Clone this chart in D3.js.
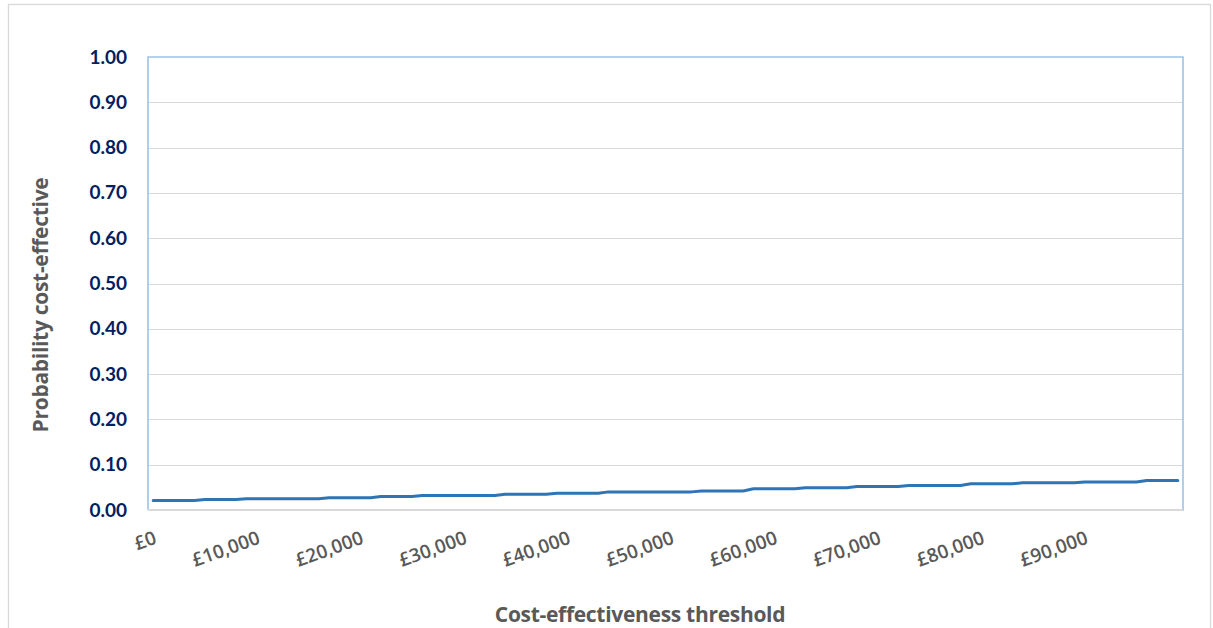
<!DOCTYPE html>
<html>
<head>
<meta charset="utf-8">
<script src="https://cdn.jsdelivr.net/npm/d3@7"></script>
<style>
  html, body { margin: 0; padding: 0; background: #ffffff; }
  svg { display: block; }
</style>
</head>
<body>
<svg id="chart" width="1213" height="628"></svg>
<script>
// Willingness-to-pay thresholds (£0 to £99,000 in £1,000 steps)
const thresholds = d3.range(0, 100000, 1000);

// Probability that the intervention is cost-effective at each threshold
const probCostEffective = [
  0.021, 0.021, 0.021, 0.021, 0.021, 0.023, 0.023, 0.023, 0.023, 0.025,
  0.025, 0.025, 0.025, 0.025, 0.025, 0.025, 0.025, 0.027, 0.027, 0.027,
  0.027, 0.027, 0.030, 0.030, 0.030, 0.030, 0.032, 0.032, 0.032, 0.032,
  0.032, 0.032, 0.032, 0.032, 0.035, 0.035, 0.035, 0.035, 0.035, 0.037,
  0.037, 0.037, 0.037, 0.037, 0.040, 0.040, 0.040, 0.040, 0.040, 0.040,
  0.040, 0.040, 0.040, 0.042, 0.042, 0.042, 0.042, 0.042, 0.047, 0.047,
  0.047, 0.047, 0.047, 0.049, 0.049, 0.049, 0.049, 0.049, 0.052, 0.052,
  0.052, 0.052, 0.052, 0.054, 0.054, 0.054, 0.054, 0.054, 0.054, 0.058,
  0.058, 0.058, 0.058, 0.058, 0.060, 0.060, 0.060, 0.060, 0.060, 0.060,
  0.062, 0.062, 0.062, 0.062, 0.062, 0.062, 0.065, 0.065, 0.065, 0.065
];

// Axis ticks
const xTickValues = [0, 10000, 20000, 30000, 40000, 50000, 60000, 70000, 80000, 90000];
const yTickValues = [0, 0.1, 0.2, 0.3, 0.4, 0.5, 0.6, 0.7, 0.8, 0.9, 1.0];

const xTitle = "Cost-effectiveness threshold";
const yTitle = "Probability cost-effective";

const plot = { left: 148, right: 1183, top: 57, bottom: 510 };

const svg = d3.select("#chart");

// Outer chart frame
svg.append("rect")
  .attr("x", 8.5).attr("y", 4.5)
  .attr("width", 1202).attr("height", 640)
  .attr("fill", "#ffffff")
  .attr("stroke", "#d9d9d9")
  .attr("stroke-width", 1.3);

const x = d3.scalePoint()
  .domain(thresholds)
  .range([plot.left, plot.right])
  .padding(0.5);

const y = d3.scaleLinear()
  .domain([0, 1])
  .range([plot.bottom, plot.top]);

// Horizontal gridlines
svg.append("g")
  .selectAll("line")
  .data(yTickValues.filter(v => v > 0 && v < 1))
  .join("line")
  .attr("x1", plot.left).attr("x2", plot.right)
  .attr("y1", d => Math.round(y(d)) + 0.5)
  .attr("y2", d => Math.round(y(d)) + 0.5)
  .attr("stroke", "#d9d9d9")
  .attr("stroke-width", 1);

// Plot-area border (top, left, right)
svg.append("path")
  .attr("d", `M${plot.left},${plot.bottom} V${plot.top} H${plot.right} V${plot.bottom + 1}`)
  .attr("fill", "none")
  .attr("stroke", "#9dc3e6")
  .attr("stroke-width", 1.6);

// Y axis
const yAxis = svg.append("g")
  .attr("transform", `translate(${plot.left},0)`)
  .call(d3.axisLeft(y)
    .tickValues(yTickValues)
    .tickFormat(d3.format(".2f"))
    .tickSize(0)
    .tickPadding(21));
yAxis.select(".domain").remove();
yAxis.selectAll("text")
  .attr("font-family", "Lato, 'Open Sans', sans-serif")
  .attr("font-weight", "bold")
  .attr("font-size", 19)
  .attr("fill", "#002060");

// X axis (baseline line and rotated tick labels)
const xAxis = svg.append("g")
  .attr("transform", `translate(0,${plot.bottom})`)
  .call(d3.axisBottom(x)
    .tickValues(xTickValues)
    .tickFormat(d => "£" + d3.format(",")(d))
    .tickSize(0));
xAxis.select(".domain")
  .attr("d", `M${plot.left},0 H${plot.right}`)
  .attr("stroke", "#d9d9d9")
  .attr("stroke-width", 2.2);
xAxis.selectAll(".tick text")
  .attr("y", 0)
  .attr("dy", 0)
  .attr("text-anchor", "end")
  .attr("transform", "translate(4,33) rotate(-20)")
  .attr("font-family", "'Open Sans', Lato, sans-serif")
  .attr("font-weight", 600)
  .attr("font-size", 19)
  .attr("fill", "#595959");

// Acceptability curve
const line = d3.line()
  .x((d, i) => x(thresholds[i]))
  .y(d => y(d));

svg.append("path")
  .datum(probCostEffective)
  .attr("d", line)
  .attr("fill", "none")
  .attr("stroke", "#2e75b6")
  .attr("stroke-width", 3)
  .attr("stroke-linejoin", "round")
  .attr("stroke-linecap", "round");

// Axis titles
svg.append("text")
  .attr("x", 640).attr("y", 622)
  .attr("text-anchor", "middle")
  .attr("font-family", "'Open Sans', Lato, sans-serif")
  .attr("font-weight", "bold")
  .attr("font-size", 21)
  .attr("letter-spacing", -0.3)
  .attr("fill", "#595959")
  .text(xTitle);

svg.append("text")
  .attr("transform", "translate(48,305) rotate(-90)")
  .attr("text-anchor", "middle")
  .attr("font-family", "'Open Sans', Lato, sans-serif")
  .attr("font-weight", "bold")
  .attr("font-size", 21)
  .attr("letter-spacing", -0.3)
  .attr("fill", "#595959")
  .text(yTitle);
</script>
</body>
</html>
